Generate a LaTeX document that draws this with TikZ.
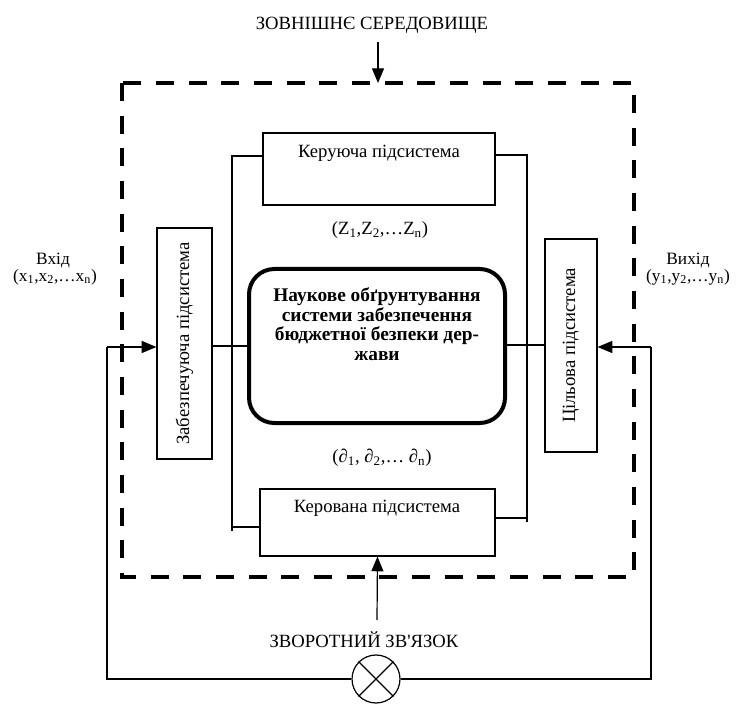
\documentclass[tikz,border=0pt]{standalone}
\usepackage{fontspec}
\setmainfont{Liberation Serif}
\usetikzlibrary{arrows.meta,fit}
\begin{document}
\begin{tikzpicture}[x=0.75pt,y=-0.75pt,
  font=\fontsize{14}{14.5}\selectfont,
  side/.style={font=\fontsize{13}{14}\selectfont},
  box/.style={draw, line width=0.9pt, inner sep=0pt},
  bigbox/.style={draw, line width=3pt, rounded corners=19pt, inner sep=0pt},
  ln/.style={line width=0.9pt},
  arr/.style={line width=0.9pt, -{Triangle[length=11pt,width=9pt]}},
  dashbox/.style={line width=3pt, dash pattern=on 13.5pt off 11pt}]
\useasboundingbox (0,0) rectangle (743,706);

% outer dashed boundary
\draw[dashbox] (122,83) rectangle (634,577);

% boxes
\node[box, fit={(263,133)(495,205)}] (keru) {};
\node (kerut) at (379,153) {Керуюча підсистема};
\node[box, fit={(157,228)(212,459)}] (zab) {};
\node[rotate=90] (zabt) at (zab.center) {Забезпечуюча підсистема};
\node[bigbox, fit={(249,269)(505,423)}] (big) {};
\node[font=\fontsize{14.5}{14.7}\selectfont\bfseries, align=center] (bigt) at (377,324)
  {Наукове обґрунтування\\системи забезпечення\\бюджетної безпеки дер-\\жави};
\node[box, fit={(545,239)(597,452)}] (cil) {};
\node[rotate=90] (cilt) at (cil.center) {Цільова підсистема};
\node[box, fit={(260,489)(495,556)}] (kerov) {};
\node (kerovt) at (377,508) {Керована підсистема};
\node[draw, circle, line width=0.9pt, minimum size=36pt, inner sep=0pt] (sum) at (376,679) {};
\draw[ln] (sum.45) -- (sum.225);
\draw[ln] (sum.135) -- (sum.315);

% labels
\node (env) at (372,25) {ЗОВНІШНЄ СЕРЕДОВИЩЕ};
\node (fb) at (364,640) {ЗВОРОТНИЙ ЗВ\textquotesingle ЯЗОК};
\node (zlab) at (380,230) {(Z\textsubscript{1},Z\textsubscript{2},…Z\textsubscript{n})};
\node (dlab) at (382,458) {(∂\textsubscript{1}, ∂\textsubscript{2},… ∂\textsubscript{n})};
\node[side] (inl) at (53,260) {Вхід};
\node[side] (inv) at (55,277) {(x\textsubscript{1},x\textsubscript{2},…x\textsubscript{n})};
\node[side] (outl) at (688,260) {Вихід};
\node[side] (outv) at (688,277) {(y\textsubscript{1},y\textsubscript{2},…y\textsubscript{n})};

% coordinates
\coordinate (lt) at (232,156);
\coordinate (lb) at (232,531);
\coordinate (lk) at (232,527);
\coordinate (rt) at (527,155);
\coordinate (rb) at (527,522);
\coordinate (rk) at (527,518);
\coordinate (in) at (107,347);
\coordinate (out) at (651,347);
\coordinate (envs) at (378,42);
\coordinate (envp) at (378,83);
\coordinate (fbs) at (377,620);

% connectors
\draw[ln] (keru.west |- lt) -- (lt) -- (lb);
\draw[ln] (lk) -- (kerov.west |- lk);
\draw[ln] (keru.east |- rt) -- (rt) -- (rb);
\draw[ln] (kerov.east |- rk) -- (rk);
\draw[ln] (zab.east |- 0,346) -- (big.west |- 0,346);
\draw[ln] (big.east |- 0,345) -- (cil.west |- 0,345);
\draw[ln] (sum.west) -| (in);
\draw[arr] (in) -- (zab.west |- in);
\draw[ln] (sum.east) -| (out);
\draw[arr] (out) -- (cil.east |- out);
\draw[arr] (envs) -- (envp);
\draw[arr] (fbs) -- (kerov.south);
\end{tikzpicture}
\end{document}
